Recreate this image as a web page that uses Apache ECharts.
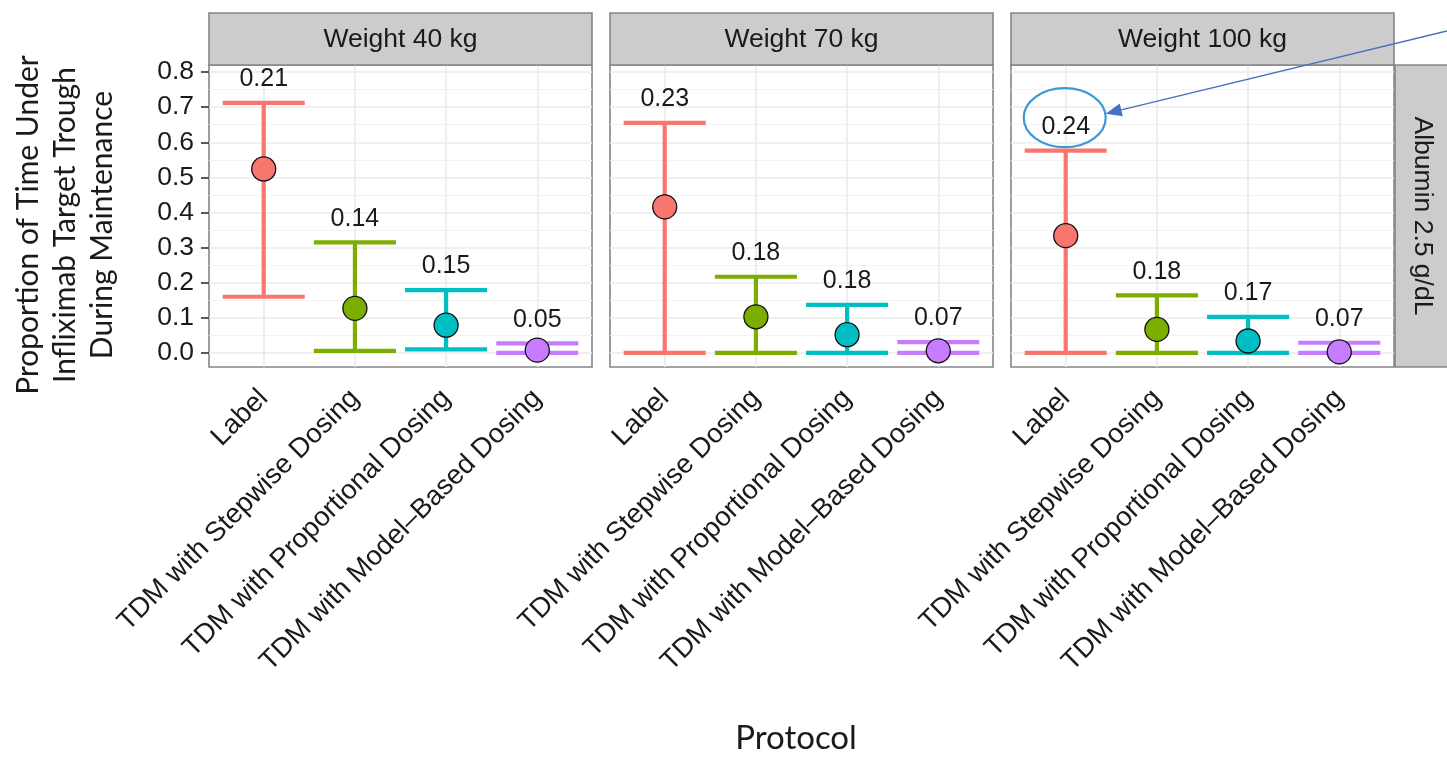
<!DOCTYPE html>
<html><head><meta charset="utf-8">
<script src="https://cdn.jsdelivr.net/npm/echarts@6/dist/echarts.min.js"></script>
<style>html,body{margin:0;padding:0;background:#fff}#c{width:1447px;height:758px}</style>
</head><body><div id="c"></div>
<script>
// ---------------- data ----------------
const protocols = ['Label', 'TDM with Stepwise Dosing', 'TDM with Proportional Dosing', 'TDM with Model\u2013Based Dosing'];
const panelTitles = ['Weight 40 kg', 'Weight 70 kg', 'Weight 100 kg'];
const rowStrip = 'Albumin 2.5 g/dL';
const yTitle = 'Proportion of Time Under\nInfliximab Target Trough\nDuring Maintenance';
const xTitle = 'Protocol';

const mean40  = [0.524, 0.127, 0.079, 0.008];
const lower40 = [0.160, 0.006, 0.010, 0.000];
const upper40 = [0.712, 0.315, 0.179, 0.027];
const label40 = ['0.21', '0.14', '0.15', '0.05'];

const mean70  = [0.416, 0.103, 0.052, 0.006];
const lower70 = [0.000, 0.000, 0.000, 0.000];
const upper70 = [0.655, 0.217, 0.137, 0.031];
const label70 = ['0.23', '0.18', '0.18', '0.07'];

const mean100  = [0.334, 0.067, 0.034, 0.003];
const lower100 = [0.000, 0.000, 0.000, 0.000];
const upper100 = [0.576, 0.164, 0.103, 0.029];
const label100 = ['0.24', '0.18', '0.17', '0.07'];

const yTickLabels = ['0.0', '0.1', '0.2', '0.3', '0.4', '0.5', '0.6', '0.7', '0.8'];
const yMinorTicks = [0.05, 0.15, 0.25, 0.35, 0.45, 0.55, 0.65, 0.75];

// ---------------- styles / layout ----------------
const colors = ['#F8766D', '#7CAE00', '#00BFC4', '#C77CFF'];
const FONT = '"Liberation Sans", Arial, Helvetica, sans-serif';
const TFONT = 'Lato, "Open Sans", sans-serif';
const TXT = '#1a1a1a';
const panelLeft = [209, 610, 1011];
const panelW = 383, panelTop = 65, panelH = 302;
const stripTop = 13;
const borderCol = '#858585';

const yTicks = yTickLabels.map(Number);
const xTicks = protocols.map((_, i) => i);
const panels = [
  {mean: mean40, lower: lower40, upper: upper40, label: label40},
  {mean: mean70, lower: lower70, upper: upper70, label: label70},
  {mean: mean100, lower: lower100, upper: upper100, label: label100}
];

const chart = echarts.init(document.getElementById('c'), null, {renderer: 'canvas'});

const grid = [], xAxis = [], yAxis = [], series = [], graphic = [];
panels.forEach((p, g) => {
  grid.push({left: panelLeft[g], top: panelTop, width: panelW, height: panelH,
    show: true, backgroundColor: '#fff', borderColor: borderCol, borderWidth: 1.6,
    outerBoundsMode: 'none', containLabel: false, z: 0});
  xAxis.push({gridIndex: g, type: 'value', min: -0.6, max: 3.6, position: 'bottom',
    axisLine: {show: false, onZero: false},
    axisTick: {show: false, customValues: xTicks},
    axisLabel: {customValues: xTicks, formatter: v => protocols[Math.round(v)],
      rotate: 45, align: 'right', verticalAlign: 'middle', margin: 27,
      fontSize: 27.5, fontFamily: FONT, color: TXT},
    splitLine: {show: true, lineStyle: {color: '#EBEBEB', width: 1.6}}});
  yAxis.push({gridIndex: g, type: 'value', min: -0.04, max: 0.82, position: 'left',
    axisLine: {show: false, onZero: false},
    axisTick: {show: g === 0, customValues: yTicks, length: 8, lineStyle: {color: '#333', width: 1.6}},
    axisLabel: {show: g === 0, customValues: yTicks, formatter: v => yTickLabels[Math.round(v * 10)],
      margin: 15, fontSize: 26.5, fontFamily: FONT, color: TXT},
    splitLine: {show: true, lineStyle: {color: '#EBEBEB', width: 1.6}}});
  yAxis.push({gridIndex: g, type: 'value', min: -0.04, max: 0.82, position: 'right',
    axisLine: {show: false, onZero: false},
    axisTick: {show: false, customValues: yMinorTicks},
    axisLabel: {show: false, customValues: yMinorTicks},
    splitLine: {show: true, lineStyle: {color: '#F3F3F3', width: 1}}});

  series.push({
    type: 'custom', xAxisIndex: g, yAxisIndex: 2 * g, clip: false, z: 3,
    data: p.mean.map((_, i) => [i, p.lower[i], p.upper[i]]),
    renderItem: (params, api) => {
      const x = api.value(0), lo = api.value(1), hi = api.value(2);
      const a = api.coord([x, lo]), b = api.coord([x, hi]);
      const l = api.coord([x - 0.45, lo])[0], r = api.coord([x + 0.45, lo])[0];
      const c = colors[params.dataIndex];
      const ls = {stroke: c, lineWidth: 4.2};
      return {type: 'group', children: [
        {type: 'line', shape: {x1: a[0], y1: a[1], x2: b[0], y2: b[1]}, style: ls},
        {type: 'line', shape: {x1: l, y1: a[1], x2: r, y2: a[1]}, style: ls},
        {type: 'line', shape: {x1: l, y1: b[1], x2: r, y2: b[1]}, style: ls},
        {type: 'text', x: b[0], y: b[1] - 23.5, style: {text: p.label[params.dataIndex],
          fill: TXT, fontSize: 25, fontFamily: FONT, align: 'center', verticalAlign: 'middle'}}
      ]};
    }
  });
  series.push({
    type: 'scatter', xAxisIndex: g, yAxisIndex: 2 * g, z: 5, symbol: 'circle', symbolSize: 24,
    data: p.mean.map((v, i) => [i, v]),
    itemStyle: {color: params => colors[params.dataIndex], borderColor: '#111', borderWidth: 1.3, opacity: 1},
    emphasis: {disabled: true}
  });

  // strip on top
  graphic.push({type: 'rect', z: 10, shape: {x: panelLeft[g], y: stripTop, width: panelW, height: panelTop - stripTop},
    style: {fill: '#CCCCCC', stroke: borderCol, lineWidth: 1.6}});
  graphic.push({type: 'text', z: 11, x: panelLeft[g] + panelW / 2, y: (stripTop + panelTop) / 2 + 1,
    style: {text: panelTitles[g], fill: TXT, fontSize: 26.5, fontFamily: FONT, align: 'center', verticalAlign: 'middle'}});
});

// right strip
const rsx = panelLeft[2] + panelW + 1;
graphic.push({type: 'rect', z: 10, shape: {x: rsx, y: panelTop, width: 1447 - rsx + 5, height: panelH},
  style: {fill: '#CCCCCC', stroke: borderCol, lineWidth: 1.6}});
graphic.push({type: 'text', z: 11, x: rsx + 27, y: panelTop + panelH / 2, rotation: -Math.PI / 2,
  style: {text: rowStrip, fill: TXT, fontSize: 26.5, fontFamily: FONT, align: 'center', verticalAlign: 'middle'}});
// axis titles
graphic.push({type: 'text', z: 11, x: 65, y: 225, rotation: Math.PI / 2,
  style: {text: yTitle, fill: TXT, fontSize: 30, lineHeight: 37, fontFamily: TFONT, align: 'center', verticalAlign: 'middle'}});
graphic.push({type: 'text', z: 11, x: 796, y: 738,
  style: {text: xTitle, fill: TXT, fontSize: 33, fontFamily: TFONT, align: 'center', verticalAlign: 'middle'}});

chart.setOption({animation: false, backgroundColor: '#fff', grid, xAxis, yAxis, series, graphic});

// annotation: ellipse around the "Label" value in the 100 kg panel + arrow
const pt = chart.convertToPixel({xAxisIndex: 2, yAxisIndex: 4}, [0, upper100[0]]);
const cx = pt[0] - 1, cy = pt[1] - 23.5 - 9.5;
const tip = [cx + 41, cy - 4];
const start = [1447, 31];
const dx = tip[0] - start[0], dy = tip[1] - start[1];
const len = Math.hypot(dx, dy), ux = dx / len, uy = dy / len;
const hl = 16, hw = 6.5;
const bx = tip[0] - ux * hl, by = tip[1] - uy * hl;
const extra = [
  {type: 'ellipse', z: 20, shape: {cx, cy, rx: 41, ry: 29.5}, style: {fill: 'none', stroke: '#3D98D4', lineWidth: 2.2}},
  {type: 'line', z: 20, shape: {x1: start[0], y1: start[1], x2: bx, y2: by}, style: {stroke: '#4472C4', lineWidth: 1.3}},
  {type: 'polygon', z: 20, shape: {points: [tip, [bx - uy * hw, by + ux * hw], [bx + uy * hw, by - ux * hw]]},
    style: {fill: '#4472C4'}}
];
chart.setOption({graphic: graphic.concat(extra)});
</script></body></html>
